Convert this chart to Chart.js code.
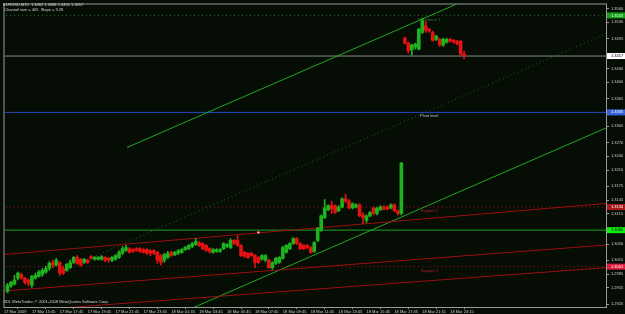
<!DOCTYPE html>
<html>
<head>
<meta charset="utf-8">
<script src="https://cdn.jsdelivr.net/npm/chart.js@4.4.1/dist/chart.umd.min.js"></script>
<style>
html, body { margin: 0; padding: 0; background: #050d05; }
#wrap { width: 625px; height: 314px; }
</style>
</head>
<body>
<div id="wrap"><canvas id="c"></canvas></div>
<script>
// EURUSD M15, 17-18 Mar 2009
var opens = [
  1.2948, 1.2959, 1.2963, 1.2976, 1.2984, 1.2976, 1.2972, 1.2961, 1.2976, 1.2980,
  1.2984, 1.2989, 1.2997, 1.3010, 1.3004, 1.3010, 1.2997, 1.2993, 1.2999, 1.3010,
  1.3021, 1.3017, 1.3010, 1.3015, 1.3023, 1.3017, 1.3017, 1.3017, 1.3021, 1.3019,
  1.3015, 1.3017, 1.3021, 1.3030, 1.3036, 1.3040, 1.3038, 1.3040, 1.3040, 1.3038,
  1.3038, 1.3036, 1.3036, 1.3032, 1.3025, 1.3015, 1.3021, 1.3032, 1.3027, 1.3030,
  1.3032, 1.3038, 1.3040, 1.3045, 1.3049, 1.3053, 1.3051, 1.3047, 1.3040, 1.3032,
  1.3034, 1.3034, 1.3040, 1.3045, 1.3042, 1.3058, 1.3058, 1.3047, 1.3032, 1.3030,
  1.3030, 1.3025, 1.3021, 1.3017, 1.3015, 1.3015, 1.2999, 1.3008, 1.3010, 1.3019,
  1.3032, 1.3040, 1.3051, 1.3062, 1.3051, 1.3047, 1.3047, 1.3042, 1.3034, 1.3058,
  1.3079, 1.3107, 1.3124, 1.3133, 1.3133, 1.3122, 1.3130, 1.3148, 1.3143, 1.3128,
  1.3130, 1.3135, 1.3113, 1.3101, 1.3111, 1.3128, 1.3116, 1.3124, 1.3130, 1.3130,
  1.3128, 1.3135, 1.3122, 1.3116, 1.3496, 1.3485, 1.3470, 1.3476, 1.3472, 1.3508,
  1.3523, 1.3515, 1.3508, 1.3493, 1.3493, 1.3481, 1.3487, 1.3493, 1.3491, 1.3489,
  1.3489, 1.3462
];
var highs = [
  1.2965, 1.2969, 1.2982, 1.2989, 1.2987, 1.2978, 1.2974, 1.2982, 1.2987, 1.2993,
  1.2997, 1.3002, 1.3012, 1.3015, 1.3019, 1.3012, 1.3002, 1.3008, 1.3015, 1.3023,
  1.3025, 1.3019, 1.3019, 1.3017, 1.3025, 1.3023, 1.3023, 1.3025, 1.3023, 1.3021,
  1.3023, 1.3027, 1.3036, 1.3045, 1.3047, 1.3042, 1.3040, 1.3042, 1.3042, 1.3040,
  1.3040, 1.3038, 1.3038, 1.3034, 1.3027, 1.3030, 1.3034, 1.3034, 1.3034, 1.3038,
  1.3040, 1.3045, 1.3049, 1.3053, 1.3062, 1.3055, 1.3053, 1.3049, 1.3042, 1.3040,
  1.3040, 1.3040, 1.3053, 1.3051, 1.3062, 1.3060, 1.3068, 1.3049, 1.3034, 1.3032,
  1.3032, 1.3027, 1.3023, 1.3027, 1.3027, 1.3017, 1.3012, 1.3021, 1.3023, 1.3045,
  1.3049, 1.3053, 1.3064, 1.3064, 1.3053, 1.3049, 1.3049, 1.3045, 1.3055, 1.3086,
  1.3113, 1.3146, 1.3135, 1.3143, 1.3135, 1.3133, 1.3150, 1.3158, 1.3146, 1.3139,
  1.3137, 1.3137, 1.3118, 1.3113, 1.3120, 1.3130, 1.3130, 1.3133, 1.3133, 1.3133,
  1.3137, 1.3137, 1.3124, 1.3227, 1.3498, 1.3487, 1.3483, 1.3485, 1.3517, 1.3539,
  1.3532, 1.3517, 1.3511, 1.3502, 1.3496, 1.3496, 1.3496, 1.3496, 1.3493, 1.3491,
  1.3491, 1.3468
];
var lows = [
  1.2944, 1.2956, 1.2961, 1.2972, 1.2974, 1.2963, 1.2959, 1.2956, 1.2974, 1.2978,
  1.2980, 1.2987, 1.2993, 1.2999, 1.3002, 1.2982, 1.2984, 1.2991, 1.2997, 1.3008,
  1.3006, 1.3002, 1.3008, 1.3008, 1.3017, 1.3015, 1.3015, 1.3015, 1.3012, 1.3010,
  1.3012, 1.3015, 1.3019, 1.3027, 1.3034, 1.3030, 1.3032, 1.3034, 1.3032, 1.3030,
  1.3027, 1.3025, 1.3027, 1.3008, 1.3004, 1.3010, 1.3019, 1.3023, 1.3025, 1.3027,
  1.3030, 1.3036, 1.3038, 1.3042, 1.3047, 1.3045, 1.3038, 1.3034, 1.3030, 1.3030,
  1.3032, 1.3032, 1.3038, 1.3042, 1.3040, 1.3049, 1.3045, 1.3023, 1.3021, 1.3019,
  1.3023, 1.2999, 1.3008, 1.3015, 1.3012, 1.2997, 1.2995, 1.3006, 1.3008, 1.3017,
  1.3030, 1.3038, 1.3049, 1.3049, 1.3038, 1.3038, 1.3040, 1.3030, 1.3032, 1.3055,
  1.3077, 1.3105, 1.3122, 1.3116, 1.3116, 1.3120, 1.3128, 1.3139, 1.3126, 1.3126,
  1.3128, 1.3109, 1.3094, 1.3096, 1.3109, 1.3113, 1.3113, 1.3122, 1.3124, 1.3124,
  1.3126, 1.3120, 1.3113, 1.3113, 1.3483, 1.3463, 1.3459, 1.3472, 1.3470, 1.3506,
  1.3508, 1.3508, 1.3489, 1.3491, 1.3478, 1.3478, 1.3485, 1.3487, 1.3485, 1.3481,
  1.3459, 1.3451
];
var closes = [
  1.2961, 1.2967, 1.2972, 1.2987, 1.2976, 1.2967, 1.2965, 1.2980, 1.2982, 1.2989,
  1.2993, 1.2997, 1.3008, 1.3004, 1.3015, 1.2987, 1.2987, 1.3006, 1.3010, 1.3021,
  1.3008, 1.3004, 1.3017, 1.3010, 1.3019, 1.3021, 1.3021, 1.3023, 1.3015, 1.3015,
  1.3021, 1.3025, 1.3032, 1.3040, 1.3042, 1.3032, 1.3034, 1.3036, 1.3034, 1.3032,
  1.3030, 1.3030, 1.3030, 1.3015, 1.3010, 1.3027, 1.3030, 1.3025, 1.3032, 1.3036,
  1.3038, 1.3042, 1.3047, 1.3051, 1.3055, 1.3047, 1.3040, 1.3036, 1.3034, 1.3038,
  1.3038, 1.3038, 1.3051, 1.3049, 1.3058, 1.3051, 1.3047, 1.3025, 1.3023, 1.3021,
  1.3025, 1.3010, 1.3010, 1.3025, 1.3025, 1.2999, 1.3010, 1.3019, 1.3021, 1.3042,
  1.3047, 1.3051, 1.3062, 1.3051, 1.3040, 1.3040, 1.3042, 1.3032, 1.3053, 1.3084,
  1.3111, 1.3128, 1.3133, 1.3126, 1.3118, 1.3130, 1.3148, 1.3143, 1.3128, 1.3137,
  1.3135, 1.3111, 1.3107, 1.3111, 1.3118, 1.3116, 1.3128, 1.3130, 1.3126, 1.3126,
  1.3135, 1.3122, 1.3116, 1.3225, 1.3485, 1.3468, 1.3481, 1.3483, 1.3515, 1.3534,
  1.3513, 1.3511, 1.3491, 1.3500, 1.3481, 1.3493, 1.3493, 1.3489, 1.3487, 1.3483,
  1.3461, 1.3457
];

// one time label every 8 bars
var timeLabels = [
  '17 Mar 2009', '17 Mar 15:45', '17 Mar 17:45', '17 Mar 19:45', '17 Mar 21:45',
  '17 Mar 23:45', '18 Mar 01:45', '18 Mar 03:45', '18 Mar 05:45', '18 Mar 07:45',
  '18 Mar 09:45', '18 Mar 11:45', '18 Mar 13:45', '18 Mar 15:45', '18 Mar 17:45',
  '18 Mar 21:15', '18 Mar 23:15'
];
var priceTicks = [
  1.3560, 1.3530, 1.3495, 1.3460, 1.3430, 1.3400, 1.3365, 1.3335, 1.3305, 1.3270,
  1.3240, 1.3210, 1.3175, 1.3145, 1.3115, 1.3080, 1.3050, 1.3015, 1.2985, 1.2955, 1.2920
];

// trend lines: [startBar, startPrice, endBar, endPrice]
var greenUpper  = [34.3, 1.3259, 175, 1.3721];
var greenMiddle = [24.3, 1.3021, 175, 1.3516];
var greenLower  = [24.3, 1.2817, 175, 1.3312];
var redUpper  = [-1.5, 1.3027, 172, 1.3138];
var redMiddle = [-1.5, 1.2948, 172, 1.3048];
var redLower  = [-1.5, 1.2902, 172, 1.2999];

// pivot levels
var levelNames  = ['Resistance 1', 'Pivot level', 'Support 1', 'Support 2'];
var levelValues = [1.3545, 1.3335, 1.3130, 1.3001];
var greenLevel = 1.3080;
var lastPrice = 1.3457;
var markerBars = [72];
var markerPrices = [1.3075];

var header1 = 'EURUSD,M15  1.3462 1.3468 1.3451 1.3457';
var header2 = ' Channel size = 405  Slope = 3.28';
var footer = 'ODL MetaTrader, \u00a9 2001-2008 MetaQuotes Software Corp.';

var bull = '#1fb21f', bear = '#e41212';
var font = '"Liberation Sans", Arial, sans-serif';

function barColor(i) { return closes[i] >= opens[i] ? bull : bear; }
function seg(a) { return [{x: a[0], y: a[1]}, {x: a[2], y: a[3]}]; }
function flat(v) { return [{x: -5, y: v}, {x: 180, y: v}]; }
function lineSet(data, color, dash) {
  return { type: 'line', data: data, borderColor: color, borderWidth: 1,
           borderDash: dash || [], pointRadius: 0, fill: false, order: 5 };
}

var wickData = opens.map(function (o, i) { return {x: i, y: [lows[i], highs[i]]}; });
var bodyData = opens.map(function (o, i) { return {x: i, y: [o, closes[i]]}; });
var colors = opens.map(function (o, i) { return barColor(i); });

var mtPlugin = {
  id: 'mt4',
  beforeDraw: function (chart) {
    var ctx = chart.ctx;
    ctx.save();
    ctx.fillStyle = '#050d05';
    ctx.fillRect(0, 0, chart.width, chart.height);
    ctx.restore();
  },
  afterDraw: function (chart) {
    var ctx = chart.ctx, a = chart.chartArea;
    var ys = chart.scales.y, xs = chart.scales.x;
    ctx.save();
    // frame
    ctx.strokeStyle = '#9a9a9a';
    ctx.lineWidth = 1;
    ctx.strokeRect(a.left - 0.5, a.top - 0.5, a.right - a.left + 1, a.bottom - a.top + 1);

    ctx.font = '4px ' + font;
    ctx.textBaseline = 'middle';
    ctx.textAlign = 'left';
    ctx.fillStyle = '#d8d8d8';
    ctx.fillText(header1, 3, 5);
    ctx.fillText(header2, 3, 10);
    ctx.fillText(footer, 3, 301.5);

    // level captions
    var capColors = ['#2f7a2f', '#c8c8c8', '#b82020', '#b82020'];
    ctx.textAlign = 'center';
    for (var k = 0; k < levelNames.length; k++) {
      ctx.fillStyle = capColors[k];
      ctx.fillText(levelNames[k], xs.getPixelForValue(121), ys.getPixelForValue(levelValues[k]) + 4);
    }

    // price boxes on the axis
    var boxes = [
      [levelValues[0], '#18a018', '#e8ffe8'],
      [lastPrice, '#ffffff', '#000000'],
      [levelValues[1], '#3a62d8', '#ffffff'],
      [levelValues[2], '#a81c1c', '#ffffff'],
      [greenLevel, '#10f010', '#000000'],
      [levelValues[3], '#e01c40', '#ffffff']
    ];
    ctx.textAlign = 'left';
    boxes.forEach(function (b) {
      var py = ys.getPixelForValue(b[0]);
      ctx.fillStyle = b[1];
      ctx.fillRect(a.right + 1, py - 3, 20, 6);
      ctx.fillStyle = b[2];
      ctx.fillText(b[0].toFixed(4), a.right + 5, py);
    });
    ctx.restore();
  }
};

new Chart(document.getElementById('c'), {
  type: 'bar',
  data: {
    datasets: [
      lineSet(seg(redUpper), '#9c0e0e'),
      lineSet(seg(redMiddle), '#9c0e0e'),
      lineSet(seg(redLower), '#9c0e0e'),
      lineSet(seg(greenUpper), '#22a822'),
      lineSet(seg(greenMiddle), '#1c6e1c', [1, 3]),
      lineSet(seg(greenLower), '#22a822'),
      lineSet(flat(levelValues[0]), '#1c7a1c', [1, 3]),
      lineSet(flat(levelValues[1]), '#2848c8'),
      lineSet(flat(levelValues[2]), '#a01818', [1, 3]),
      lineSet(flat(levelValues[3]), '#a01818', [1, 3]),
      lineSet(flat(greenLevel), '#20a020'),
      lineSet(flat(lastPrice), '#8a8a8a'),
      {
        type: 'bar', data: wickData, backgroundColor: colors, barThickness: 1,
        grouped: false, borderWidth: 0, order: 2
      },
      {
        type: 'bar', data: bodyData, backgroundColor: colors, barThickness: 3,
        grouped: false, borderWidth: 0, order: 1
      },
      {
        type: 'scatter',
        data: markerBars.map(function (b, i) { return {x: b, y: markerPrices[i]}; }),
        pointStyle: 'rect', pointRadius: 1.5, backgroundColor: '#ffffff',
        borderColor: '#e02020', borderWidth: 0.5, order: 0
      }
    ]
  },
  options: {
    responsive: true,
    maintainAspectRatio: false,
    animation: false,
    layout: { padding: { left: 2, top: 2, right: 0, bottom: 0 } },
    plugins: { legend: { display: false }, tooltip: { enabled: false } },
    scales: {
      x: {
        type: 'linear', min: -0.857, max: 171.71, offset: false,
        grid: { display: true, drawOnChartArea: false, tickLength: 2, color: '#9a9a9a' },
        border: { display: true, color: '#9a9a9a' },
        ticks: {
          autoSkip: false, maxRotation: 0, minRotation: 0, align: 'start', padding: 0,
          color: '#d0d0d0', font: { family: font, size: 4 },
          callback: function (v) { return timeLabels[Math.round((v + 1) / 8)]; }
        },
        afterBuildTicks: function (s) {
          s.ticks = timeLabels.map(function (t, k) { return { value: 8 * k - 1 }; });
        },
        afterFit: function (s) {
          s.height = 7; s.paddingLeft = 0; s.paddingRight = 0;
        }
      },
      y: {
        position: 'right', min: 1.29136, max: 1.35686,
        grid: { display: true, drawOnChartArea: false, tickLength: 3, color: '#9a9a9a' },
        border: { display: true, color: '#9a9a9a' },
        ticks: {
          autoSkip: false, padding: 2, color: '#d0d0d0', font: { family: font, size: 4 },
          callback: function (v) { return v.toFixed(4); }
        },
        afterBuildTicks: function (s) {
          s.ticks = priceTicks.map(function (v) { return { value: v }; });
        },
        afterFit: function (s) {
          s.width = 19; s.paddingTop = 0; s.paddingBottom = 0;
        }
      }
    }
  },
  plugins: [mtPlugin]
});
</script>
</body>
</html>
